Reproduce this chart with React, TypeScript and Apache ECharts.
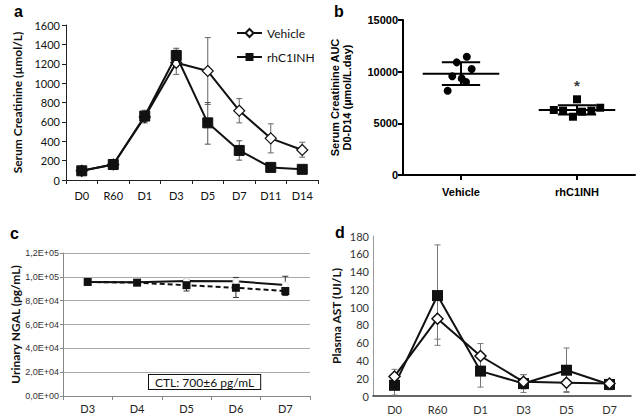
import React, { useEffect, useRef } from "react";
import * as echarts from "echarts";

// ---------- Panel a: Serum creatinine ----------
const catsA = ["D0", "R60", "D1", "D3", "D5", "D7", "D11", "D14"];
const vehA = [95, 160, 650, 1210, 1125, 715, 430, 310];
const vehAErr: [number, number][] = [[85, 105], [145, 175], [620, 690], [1090, 1340], [780, 1470], [590, 840], [280, 580], [235, 390]];
const rhA = [95, 160, 660, 1285, 590, 305, 130, 110];
const rhAErr: [number, number][] = [[85, 105], [145, 175], [590, 720], [1220, 1360], [370, 800], [205, 405], [110, 150], [95, 125]];
const ticksA = { min: 0, max: 1600, interval: 200 };

// ---------- Panel b: AUC ----------
const catsB = ["Vehicle", "rhC1INH"];
const vehB = [11450, 10900, 10260, 9550, 9350, 9000, 8160];
const vehBJitter = [0.05, -0.037, 0.092, -0.075, 0.006, 0.043, -0.115];
const rhB = [7325, 6290, 6230, 5640, 6130, 6230, 6510];
const rhBJitter = [0, -0.2, -0.12, -0.035, 0.043, 0.124, 0.2];
const meanB = [9800, 6300];
const sdB = [1100, 450];
const starB = 8700;
const ticksB = { min: 0, max: 15000, interval: 5000 };

// ---------- Panel c: Urinary NGAL ----------
const catsC = ["D3", "D4", "D5", "D6", "D7"];
const vehC = [95700, 95400, 96500, 96200, 93200];
const vehCErr: [number, number][] = [[95200, 96200], [94900, 95900], [95500, 97500], [93000, 99500], [86000, 100500]];
const rhC = [95700, 95100, 93000, 90800, 88100];
const rhCErr: [number, number][] = [[95200, 96200], [94600, 95600], [88100, 96000], [82700, 95000], [84300, 91000]];
const ticksC = { min: 0, max: 120000, interval: 20000 };
const noteC = "CTL: 700±6 pg/mL";

// ---------- Panel d: Plasma AST ----------
const catsD = ["D0", "R60", "D1", "D3", "D5", "D7"];
const vehD = [22, 87, 45, 16, 15, 14];
const vehDErr: [number, number][] = [[12, 30], [64, 110], [31, 59], [8, 24], [4, 26], [8, 18]];
const rhD = [12, 113, 28, 14, 29, 13];
const rhDErr: [number, number][] = [[1, 22], [57, 170], [10, 46], [4, 24], [5, 54], [7, 18]];
const ticksD = { min: 0, max: 180, interval: 20 };

const LATO = "Lato";
const ARIAL = "Liberation Sans";
const plain = (v: number) => String(v);

function errSeries(xAxisIndex: number, yAxisIndex: number, err: [number, number][], color: string, cap: number, z = 1) {
  return {
    type: "custom",
    xAxisIndex,
    yAxisIndex,
    z,
    silent: true,
    data: err.map((e, i) => [i, e[0], e[1]]),
    renderItem: (_p: any, api: any) => {
      const i = api.value(0);
      const lo = api.coord([i, api.value(1)]);
      const hi = api.coord([i, api.value(2)]);
      const st = { stroke: color, lineWidth: 1 };
      return {
        type: "group",
        children: [
          { type: "line", shape: { x1: lo[0], y1: lo[1], x2: hi[0], y2: hi[1] }, style: st },
          { type: "line", shape: { x1: lo[0] - cap, y1: lo[1], x2: lo[0] + cap, y2: lo[1] }, style: st },
          { type: "line", shape: { x1: hi[0] - cap, y1: hi[1], x2: hi[0] + cap, y2: hi[1] }, style: st },
        ],
      };
    },
  };
}

function cFmt(v: number) {
  if (v === 0) return "0,0E+00";
  const e = Math.floor(Math.log10(v) + 1e-9);
  const m = v / Math.pow(10, e);
  return m.toFixed(1).replace(".", ",") + "E+" + String(e).padStart(2, "0");
}

export default function App() {
  const ref = useRef<HTMLDivElement>(null);
  useEffect(() => {
    if (!ref.current) return;
    const chart = echarts.init(ref.current, undefined, { renderer: "svg" });
    const option: any = {
      animation: false,
      backgroundColor: "#fff",
      textStyle: { fontFamily: LATO },
      legend: {
        data: ["Vehicle", "rhC1INH"],
        orient: "vertical",
        left: 231,
        top: 22,
        itemWidth: 25,
        itemHeight: 10,
        itemGap: 12,
        selectedMode: false,
        textStyle: { fontFamily: LATO, fontSize: 12, color: "#111" },
      },
      grid: [
        { left: 66, top: 25, width: 252, height: 155 },
        { left: 403, top: 20, width: 232, height: 155 },
        { left: 63, top: 253, width: 247, height: 143 },
        { left: 373, top: 236, width: 258, height: 160 },
      ],
      xAxis: [
        {
          gridIndex: 0, type: "category", data: catsA, boundaryGap: true,
          axisLine: { lineStyle: { color: "#222", width: 1 } },
          axisTick: { show: true, inside: false, length: 4, lineStyle: { color: "#222" } },
          axisLabel: { fontFamily: LATO, fontSize: 11, color: "#111", margin: 10, interval: 0 },
        },
        {
          gridIndex: 1, type: "category", data: catsB, boundaryGap: true,
          axisLine: { lineStyle: { color: "#000", width: 2 } },
          axisTick: { show: true, alignWithLabel: true, length: 5, lineStyle: { color: "#000", width: 2 } },
          axisLabel: { fontFamily: ARIAL, fontWeight: "bold", fontSize: 11, color: "#000", margin: 11 },
        },
        { gridIndex: 1, type: "value", min: 0, max: 2, show: false },
        {
          gridIndex: 2, type: "category", data: catsC, boundaryGap: true,
          axisLine: { lineStyle: { color: "#888", width: 1 } },
          axisTick: { show: true, length: 4, lineStyle: { color: "#888" } },
          axisLabel: { fontFamily: LATO, fontSize: 11, color: "#222", margin: 7 },
        },
        {
          gridIndex: 3, type: "category", data: catsD, boundaryGap: true,
          axisLine: { lineStyle: { color: "#333", width: 1.5 } },
          axisTick: { show: false },
          axisLabel: { fontFamily: LATO, fontSize: 11, color: "#333", margin: 8 },
        },
      ],
      yAxis: [
        {
          gridIndex: 0, type: "value", ...ticksA,
          name: "Serum Creatinine (µmol/L)", nameLocation: "middle", nameGap: 43,
          nameTextStyle: { fontFamily: LATO, fontWeight: "bold", fontSize: 12, color: "#111" },
          axisLine: { show: true, lineStyle: { color: "#222" } },
          axisTick: { show: true, length: 4, lineStyle: { color: "#222" } },
          axisLabel: { fontFamily: LATO, fontSize: 11, color: "#111", margin: 6, formatter: plain },
          splitLine: { show: false },
        },
        {
          gridIndex: 1, type: "value", ...ticksB,
          name: "Serum Creatinine AUC\nD0-D14 (µmol/L.day)", nameLocation: "middle", nameGap: 50,
          nameTextStyle: { fontFamily: ARIAL, fontWeight: "bold", fontSize: 11, color: "#000", lineHeight: 12 },
          axisLine: { show: true, lineStyle: { color: "#000", width: 2 } },
          axisTick: { show: true, length: 5, lineStyle: { color: "#000", width: 2 } },
          axisLabel: { fontFamily: ARIAL, fontWeight: "bold", fontSize: 11, color: "#000", margin: 5, formatter: plain },
          splitLine: { show: false },
        },
        {
          gridIndex: 2, type: "value", ...ticksC,
          name: "Urinary NGAL (pg/mL)", nameLocation: "middle", nameGap: 42,
          nameTextStyle: { fontFamily: LATO, fontWeight: "bold", fontSize: 12, color: "#111" },
          axisLine: { show: true, lineStyle: { color: "#888" } },
          axisTick: { show: true, length: 3, lineStyle: { color: "#888" } },
          axisLabel: { fontFamily: ARIAL, fontSize: 9, color: "#333", margin: 4, formatter: cFmt },
          splitLine: { show: true, lineStyle: { color: "#aaa", width: 1 } },
        },
        {
          gridIndex: 3, type: "value", ...ticksD,
          name: "Plasma AST (UI/L)", nameLocation: "middle", nameGap: 31,
          nameTextStyle: { fontFamily: LATO, fontWeight: "bold", fontSize: 12, color: "#111" },
          axisLine: { show: true, lineStyle: { color: "#999" } },
          axisTick: { show: false },
          axisLabel: { fontFamily: LATO, fontSize: 11, color: "#333", margin: 4, formatter: plain },
          splitLine: { show: false },
        },
      ],
      series: [
        // panel a
        errSeries(0, 0, vehAErr, "#666", 3),
        errSeries(0, 0, rhAErr, "#555", 3),
        {
          name: "Vehicle", type: "line", xAxisIndex: 0, yAxisIndex: 0, data: vehA,
          symbol: "diamond", symbolSize: 11,
          itemStyle: { color: "#fff", borderColor: "#111", borderWidth: 1.2 },
          lineStyle: { color: "#111", width: 2 }, z: 3,
        },
        {
          name: "rhC1INH", type: "line", xAxisIndex: 0, yAxisIndex: 0, data: rhA,
          symbol: "rect", symbolSize: 10,
          itemStyle: { color: "#111", borderColor: "#111" },
          lineStyle: { color: "#111", width: 2 }, z: 4,
        },
        // panel b
        {
          type: "custom", xAxisIndex: 2, yAxisIndex: 1, z: 2, silent: true,
          data: meanB.map((m, i) => [i + 0.5, m, sdB[i]]),
          renderItem: (_p: any, api: any) => {
            const cx = api.value(0), m = api.value(1), sd = api.value(2);
            const st = { stroke: "#000", lineWidth: 2 };
            const a = api.coord([cx - 0.33, m]), b = api.coord([cx + 0.33, m]);
            const hiL = api.coord([cx - 0.165, m + sd]), hiR = api.coord([cx + 0.165, m + sd]);
            const loL = api.coord([cx - 0.165, m - sd]), loR = api.coord([cx + 0.165, m - sd]);
            const c1 = api.coord([cx, m - sd]), c2 = api.coord([cx, m + sd]);
            return {
              type: "group",
              children: [
                { type: "line", shape: { x1: a[0], y1: a[1], x2: b[0], y2: b[1] }, style: st },
                { type: "line", shape: { x1: hiL[0], y1: hiL[1], x2: hiR[0], y2: hiR[1] }, style: st },
                { type: "line", shape: { x1: loL[0], y1: loL[1], x2: loR[0], y2: loR[1] }, style: st },
                { type: "line", shape: { x1: c1[0], y1: c1[1], x2: c2[0], y2: c2[1] }, style: st },
              ],
            };
          },
        },
        {
          name: "Vehicle AUC", type: "scatter", xAxisIndex: 2, yAxisIndex: 1, z: 3,
          data: vehB.map((v, i) => [0.5 + vehBJitter[i], v]),
          symbol: "circle", symbolSize: 8, itemStyle: { color: "#000", opacity: 1 },
        },
        {
          name: "rhC1INH AUC", type: "scatter", xAxisIndex: 2, yAxisIndex: 1, z: 3,
          data: rhB.map((v, i) => [1.5 + rhBJitter[i], v]),
          symbol: "rect", symbolSize: 8, itemStyle: { color: "#000", opacity: 1 },
        },
        {
          type: "scatter", xAxisIndex: 2, yAxisIndex: 1, z: 3, silent: true,
          data: [[1.5, starB]], symbolSize: 1, itemStyle: { color: "transparent" },
          label: { show: true, position: "inside", formatter: "*", fontFamily: ARIAL, fontSize: 15, fontWeight: "bold", color: "#000" },
        },
        // panel c
        errSeries(3, 2, vehCErr, "#333", 3),
        errSeries(3, 2, rhCErr, "#333", 3),
        {
          name: "Vehicle", type: "line", xAxisIndex: 3, yAxisIndex: 2, data: vehC,
          symbol: "circle", symbolSize: 6,
          itemStyle: { color: "#fff", borderColor: "#ddd", borderWidth: 1 },
          lineStyle: { color: "#111", width: 2 }, z: 3,
        },
        {
          name: "rhC1INH", type: "line", xAxisIndex: 3, yAxisIndex: 2, data: rhC,
          symbol: "rect", symbolSize: 8,
          itemStyle: { color: "#111" },
          lineStyle: { color: "#111", width: 2, type: [5, 3] }, z: 4,
        },
        // panel d
        errSeries(4, 3, vehDErr, "#777", 3),
        errSeries(4, 3, rhDErr, "#777", 3),
        {
          name: "rhC1INH", type: "line", xAxisIndex: 4, yAxisIndex: 3, data: rhD,
          symbol: "rect", symbolSize: 11,
          itemStyle: { color: "#111" },
          lineStyle: { color: "#111", width: 2 }, z: 3,
        },
        {
          name: "Vehicle", type: "line", xAxisIndex: 4, yAxisIndex: 3, data: vehD,
          symbol: "diamond", symbolSize: 11,
          itemStyle: { color: "#fff", borderColor: "#111", borderWidth: 1.5 },
          lineStyle: { color: "#111", width: 2 }, z: 4,
        },
      ],
      graphic: [
        { type: "text", left: 14, top: 3, style: { text: "a", font: "bold 16px 'Liberation Sans'", fill: "#000" } },
        { type: "text", left: 334, top: 3, style: { text: "b", font: "bold 16px 'Liberation Sans'", fill: "#000" } },
        { type: "text", left: 10, top: 225, style: { text: "c", font: "bold 16px 'Liberation Sans'", fill: "#000" } },
        { type: "text", left: 335, top: 224, style: { text: "d", font: "bold 16px 'Liberation Sans'", fill: "#000" } },
        {
          type: "text", left: 148, top: 374,
          style: {
            text: noteC, font: "12px Lato", fill: "#111",
            backgroundColor: "#fff", borderColor: "#111", borderWidth: 1,
            padding: [1, 6, 1, 6],
          },
        },
      ],
    };
    chart.setOption(option);
    return () => chart.dispose();
  }, []);
  return (
    <div
      ref={ref}
      style={{ position: "absolute", left: 0, top: 0, width: 638, height: 415 }}
    />
  );
}
